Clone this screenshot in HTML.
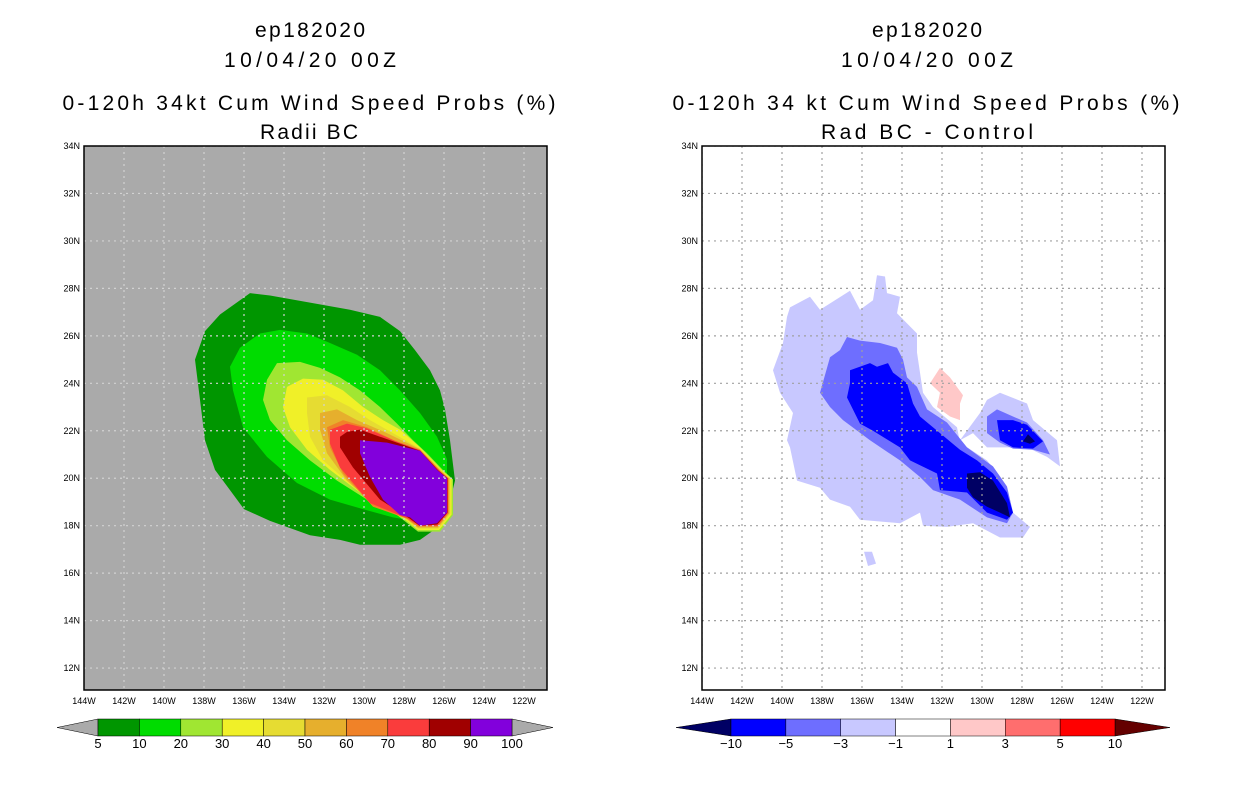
<!DOCTYPE html>
<html><head><meta charset="utf-8"><style>
body{margin:0;background:#fff;}
svg text{font-family:"Liberation Sans",sans-serif;}
</style></head><body>
<svg id="s" width="1236" height="800" viewBox="0 0 1236 800" xmlns="http://www.w3.org/2000/svg">
<g font-size="21" text-anchor="middle" fill="#000">
<text x="310" y="37" textLength="110" lengthAdjust="spacing">ep182020</text>
<text x="310" y="67" textLength="172" lengthAdjust="spacing">10/04/20 00Z</text>
<text x="309" y="110" textLength="493" lengthAdjust="spacing">0-120h 34kt Cum Wind Speed Probs (%)</text>
<text x="309" y="139" textLength="98" lengthAdjust="spacing">Radii BC</text>
<text x="927" y="37" textLength="110" lengthAdjust="spacing">ep182020</text>
<text x="927" y="67" textLength="172" lengthAdjust="spacing">10/04/20 00Z</text>
<text x="926" y="110" textLength="507" lengthAdjust="spacing">0-120h 34 kt Cum Wind Speed Probs (%)</text>
<text x="927" y="139" textLength="212" lengthAdjust="spacing">Rad BC - Control</text>
</g>
<g id="left"></g>
<g id="right"></g>
<g id="cbars"></g>
</svg>
<script>
// Axis ticks
const lonTicks = [144,142,140,138,136,134,132,130,128,126,124,122];
const latTicks = [34,32,30,28,26,24,22,20,18,16,14,12];
// Left panel: contour levels and colors
const probLevels = [5,10,20,30,40,50,60,70,80,90,100];
const probColors = ["#009600","#00dc00","#a0e632","#f0f028","#e6dc32","#e6af2d","#f08228","#fa3c3c","#a00000","#8200dc"];
// contours: [lonW, lat]
const cProb5 = [[135.7,27.8],[134.7,27.7],[132.7,27.4],[130.7,27.1],[129.2,26.8],[128.2,26.2],[127.45,25.4],[126.7,24.55],[126.2,23.7],[125.95,22.9],[125.7,21.6],[125.45,19.9],[125.8,18.7],[126.2,18.0],[127.2,17.4],[128.2,17.2],[130.2,17.2],[131.2,17.4],[132.7,17.6],[134.7,18.2],[136.0,18.7],[136.7,19.5],[137.45,20.35],[137.95,21.6],[138.2,23.3],[138.45,25.0],[137.95,26.2],[137.2,26.9],[136.2,27.5]];
const cProb10 = [[135.2,26.1],[134.2,26.25],[132.85,26.1],[131.7,25.7],[130.35,25.2],[129.2,24.55],[128.2,23.7],[127.2,22.75],[126.35,21.75],[125.85,20.8],[125.85,19.9],[126.2,18.8],[126.85,18.1],[128.55,18.35],[129.85,18.65],[131.7,19.1],[133.35,19.8],[134.85,20.9],[136.05,22.15],[136.55,23.7],[136.7,24.7],[136.2,25.5]];
const cProb20 = [[134.35,24.85],[133.2,24.9],[132.2,24.65],[131.2,24.25],[130.2,23.7],[129.2,23.0],[128.35,22.3],[127.55,21.6],[126.85,21.05],[126.0,20.3],[125.55,19.95],[125.55,18.45],[126.2,17.75],[127.3,17.75],[128.35,18.45],[129.85,19.1],[131.35,19.9],[132.7,20.75],[133.85,21.6],[134.7,22.45],[135.05,23.3],[134.85,24.15]];
const cProb30 = [[133.85,23.85],[133.05,24.2],[132.05,24.15],[131.05,23.7],[130.05,23.0],[129.05,22.45],[128.2,22.05],[127.2,21.3],[126.05,20.3],[125.62,19.97],[125.62,18.47],[126.25,17.82],[127.3,17.82],[128.0,18.3],[128.85,18.65],[130.2,19.4],[131.7,20.35],[132.85,21.2],[133.7,22.15],[134.05,23.0]];
const cProb40 = [[132.85,23.4],[131.85,23.5],[130.7,23.0],[129.7,22.45],[128.55,21.9],[127.2,21.25],[126.1,20.3],[125.68,19.98],[125.68,18.5],[126.28,17.87],[127.3,17.87],[127.95,18.3],[129.2,18.8],[130.55,19.65],[132.05,20.75],[132.7,21.75],[132.85,22.75]];
const cProb50 = [[132.2,22.75],[131.35,22.9],[130.35,22.45],[128.85,21.9],[127.2,21.22],[126.15,20.3],[125.73,19.99],[125.73,18.52],[126.3,17.92],[127.3,17.92],[127.9,18.3],[129.35,18.8],[130.85,19.9],[131.85,21.05],[132.2,22.05]];
const cProb60 = [[131.85,22.15],[131.05,22.45],[129.85,22.15],[128.5,21.6],[127.2,21.2],[126.2,20.32],[125.77,20.0],[125.77,18.53],[126.32,17.96],[127.3,17.96],[127.85,18.3],[129.55,18.8],[131.05,20.2],[131.7,21.3]];
const cProb70 = [[131.7,22.05],[130.85,22.3],[129.85,22.1],[128.4,21.55],[127.2,21.18],[126.25,20.33],[125.8,20.0],[125.8,18.54],[126.33,18.0],[127.25,18.0],[127.8,18.3],[129.7,18.95],[131.2,20.45],[131.7,21.45]];
const cProb80 = [[131.2,21.75],[130.85,21.95],[130.2,22.05],[129.2,21.75],[127.2,21.16],[126.3,20.34],[125.83,20.0],[125.83,18.55],[126.34,18.05],[127.22,18.0],[127.75,18.32],[129.2,19.1],[130.55,20.45],[131.2,21.3]];
const cProb90 = [[130.2,21.6],[128.85,21.5],[127.2,21.15],[126.35,20.35],[125.85,20.0],[125.85,18.55],[126.35,18.1],[127.2,18.0],[127.7,18.35],[128.2,18.45],[129.05,19.1],[129.7,20.05],[130.2,21.05]];
// Right panel: difference levels and colors
const diffLevels = [-10,-5,-3,-1,1,3,5,10];
const diffColors = ["#000064","#0000ff","#6e6eff","#c8c8ff","#ffffff","#ffc8c8","#ff6e6e","#ff0000","#640000"];
const dLight = [[139.6,27.2],[138.6,27.65],[138.1,27.1],[136.6,27.9],[136.1,27.1],[135.45,27.5],[135.25,28.55],[134.85,28.5],[134.75,27.8],[134.1,27.65],[134.25,26.95],[133.25,26.1],[133.25,25.3],[132.95,23.6],[132.45,23.0],[131.25,22.15],[131.1,21.5],[129.75,20.75],[129.1,20.05],[128.45,18.55],[127.6,17.95],[127.95,17.5],[129.1,17.5],[130.45,18.1],[131.75,17.95],[132.95,18.0],[133.1,18.55],[134.1,18.1],[136.1,18.25],[136.6,18.8],[137.6,19.1],[138.1,19.6],[139.25,19.9],[139.6,21.3],[139.75,21.6],[139.45,22.75],[140.1,23.6],[140.45,24.55],[139.95,25.7],[139.75,26.8]];
const dLightEast = [[129.75,23.3],[129.1,23.6],[127.75,23.15],[127.45,22.45],[126.25,21.6],[126.1,20.5],[126.75,20.9],[127.75,21.3],[128.75,21.3],[129.75,21.3],[130.45,21.9],[131.1,21.6],[130.1,22.75]];
const dLightSmall = [[135.9,16.9],[135.5,16.9],[135.3,16.4],[135.7,16.3]];
const dMed = [[136.75,25.95],[136.1,25.8],[135.1,25.7],[134.25,25.5],[133.95,25.0],[133.75,24.25],[133.25,23.85],[132.75,22.9],[131.75,22.35],[130.75,21.3],[129.45,20.5],[128.75,19.65],[128.45,18.55],[128.75,18.1],[129.75,18.35],[131.1,19.1],[132.45,19.5],[133.1,20.05],[134.1,20.75],[135.6,21.6],[136.95,22.45],[137.6,23.0],[138.1,23.6],[137.6,25.1],[137.1,25.4]];
const dMedEast = [[129.75,22.6],[129.25,22.9],[128.45,22.6],[127.75,22.35],[126.95,21.6],[126.6,21.0],[127.45,21.2],[128.45,21.25],[129.1,21.5],[129.75,21.9]];
const dBlue = [[136.6,24.55],[135.6,24.85],[135.25,24.7],[134.7,24.85],[134.45,24.45],[133.75,24.0],[133.45,23.15],[133.1,22.6],[132.1,21.9],[131.1,21.2],[130.25,20.75],[129.45,20.2],[128.75,19.4],[128.45,18.55],[128.75,18.25],[129.75,18.55],[130.75,19.4],[132.1,19.5],[132.25,20.2],[133.6,20.75],[134.1,21.3],[135.45,22.0],[136.1,22.3],[136.75,23.4],[136.6,24.0]];
const dBlueEast = [[129.25,22.45],[128.45,22.45],[127.75,22.25],[126.95,21.55],[127.45,21.25],[128.45,21.3],[129.1,21.6]];
const dNavy = [[130.75,20.2],[130.1,20.25],[129.45,19.9],[128.75,18.95],[128.6,18.35],[129.1,18.55],[129.75,18.8],[130.45,19.2],[130.75,19.6]];
const dNavyEast = [[127.95,21.55],[127.7,21.85],[127.35,21.55],[127.6,21.45]];
const dPink = [[132.6,24.0],[132.1,24.65],[131.6,24.25],[130.95,23.5],[131.1,23.15],[131.1,22.45],[131.6,22.6],[132.25,23.0],[132.1,23.6]];

const NS='http://www.w3.org/2000/svg';
const Y0=146, Y1=690, W=463;
function xs(ox){return lonW=>ox+(144-lonW)*20;}
function ys(lat){return Y0+(34-lat)*23.73;}
function mk(tag,attrs,parent){const e=document.createElementNS(NS,tag);for(const k in attrs)e.setAttribute(k,attrs[k]);parent.appendChild(e);return e;}

function panel(g,ox,bg,gridCol,polys,prefix){
  const x=xs(ox);
  const bgR=mk('rect',{x:ox,y:Y0,width:W,height:Y1-Y0,fill:bg},g);
  
  
  const clip=mk('clipPath',{id:prefix+'clip'},g);
  mk('rect',{x:ox,y:Y0,width:W,height:Y1-Y0},clip);
  const cg=mk('g',{'clip-path':'url(#'+prefix+'clip)'},g);
  polys.forEach(([pts,col,name])=>{
    const p=mk('polygon',{points:pts.map(q=>x(q[0]).toFixed(1)+','+ys(q[1]).toFixed(1)).join(' '),fill:col},cg);
    
    
  });
  lonTicks.forEach(l=>{
    const gl=mk('line',{x1:x(l),x2:x(l),y1:Y0,y2:Y1,stroke:gridCol,'stroke-width':1.2,'stroke-dasharray':'2,4'},cg);
    
    
    const t=mk('text',{x:x(l),y:Y1+14,'font-size':9,'text-anchor':'middle'},g);
    t.textContent=l+'W';
    
    
  });
  latTicks.forEach(l=>{
    const gl=mk('line',{x1:ox,x2:ox+W,y1:ys(l),y2:ys(l),stroke:gridCol,'stroke-width':1.2,'stroke-dasharray':'2,4'},cg);
    
    
    const t=mk('text',{x:ox-4,y:ys(l)+3,'font-size':9,'text-anchor':'end'},g);
    t.textContent=l+'N';
    
    
  });
  const fr=mk('rect',{x:ox,y:Y0,width:W,height:Y1-Y0,fill:'none',stroke:'#000','stroke-width':1.5},g);
  
  
}
const probPolys=[cProb5,cProb10,cProb20,cProb30,cProb40,cProb50,cProb60,cProb70,cProb80,cProb90];
panel(document.getElementById('left'),84,'#aaaaaa','#d2d2d2',
  probPolys.map((p,i)=>[p,probColors[i],'prob-contour-'+probLevels[i]]),'left');
panel(document.getElementById('right'),702,'#ffffff','#a0a0a0',[
  [dLight,diffColors[3],'diff-contour-minus1'],[dLightEast,diffColors[3],'diff-contour-minus1-east'],[dLightSmall,diffColors[3],'diff-contour-minus1-small'],
  [dMed,diffColors[2],'diff-contour-minus3'],[dMedEast,diffColors[2],'diff-contour-minus3-east'],
  [dBlue,diffColors[1],'diff-contour-minus5'],[dBlueEast,diffColors[1],'diff-contour-minus5-east'],
  [dNavy,diffColors[0],'diff-contour-minus10'],[dNavyEast,diffColors[0],'diff-contour-minus10-east'],
  [dPink,diffColors[5],'diff-contour-plus1']],'right');

// colorbars
const cb=document.getElementById('cbars');
function colorbar(x0,x1,triW,colors,labels,triL,triR,prefix){
  const n=colors.length, bw=(x1-x0-2*triW)/n, y=719, h=17;
  const tl=mk('polygon',{points:`${x0},${y+h/2} ${x0+triW},${y} ${x0+triW},${y+h}`,fill:triL,stroke:'#000','stroke-width':0.5},cb);
  
  
  const tr=mk('polygon',{points:`${x1},${y+h/2} ${x1-triW},${y} ${x1-triW},${y+h}`,fill:triR,stroke:'#000','stroke-width':0.5},cb);
  
  
  colors.forEach((c,i)=>{
    const r=mk('rect',{x:x0+triW+i*bw,y:y,width:bw,height:h,fill:c,stroke:'#000','stroke-width':0.5},cb);
    
    
  });
  labels.forEach((l,i)=>{
    const t=mk('text',{x:x0+triW+i*bw,y:y+h+12,'font-size':13,'text-anchor':'middle'},cb);
    t.textContent=String(l).replace('-','\u2212');
    
    
  });
}
colorbar(57,553,41,probColors,probLevels,'#aaaaaa','#aaaaaa','left');
colorbar(676,1170,55,diffColors.slice(1,8),diffLevels,diffColors[0],diffColors[8],'right');
</script>
</body></html>
